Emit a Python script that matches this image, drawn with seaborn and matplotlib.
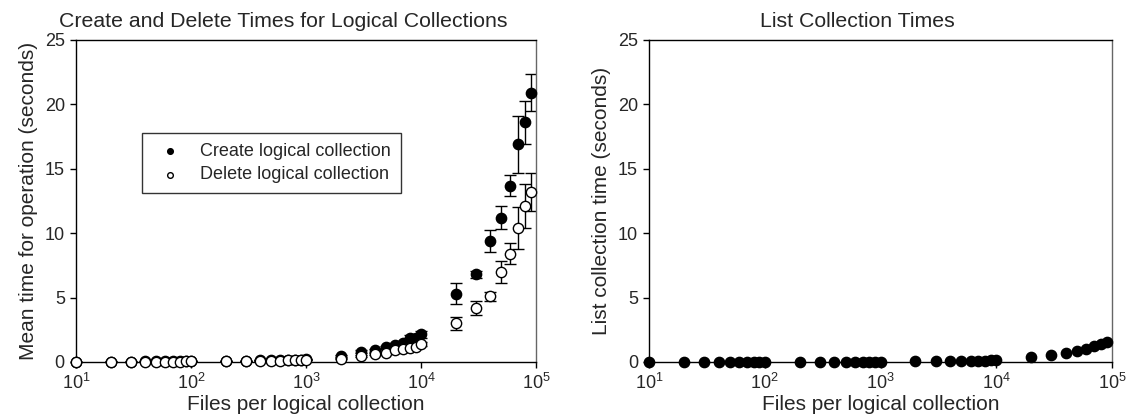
"""
Logical collection timing charts: create/delete and list times
"""

import numpy as np
import pandas as pd
import matplotlib
matplotlib.use('Agg')
import matplotlib.pyplot as plt
import seaborn as sns
from matplotlib.ticker import LogLocator, LogFormatterMathtext, NullLocator

# files per logical collection
files = [10, 20, 30, 40, 50, 60, 70, 80, 90, 100,
         200, 300, 400, 500, 600, 700, 800, 900, 1000,
         2000, 3000, 4000, 5000, 6000, 7000, 8000, 9000, 10000,
         20000, 30000, 40000, 50000, 60000, 70000, 80000, 90000]

create_time = [0.02, 0.03, 0.03, 0.04, 0.04, 0.04, 0.05, 0.05, 0.05, 0.06,
               0.07, 0.09, 0.15, 0.13, 0.15, 0.18, 0.18, 0.19, 0.22,
               0.44, 0.78, 0.90, 1.14, 1.34, 1.50, 1.86, 1.90, 2.14,
               5.3, 6.8, 9.4, 11.2, 13.7, 16.9, 18.6, 20.9]
create_err = [0.01, 0.01, 0.01, 0.01, 0.01, 0.01, 0.01, 0.01, 0.01, 0.01,
              0.02, 0.02, 0.03, 0.03, 0.03, 0.03, 0.03, 0.03, 0.04,
              0.08, 0.12, 0.10, 0.12, 0.15, 0.15, 0.25, 0.25, 0.25,
              0.8, 0.3, 0.85, 0.9, 0.8, 2.2, 1.7, 1.45]

delete_time = [0.01, 0.02, 0.02, 0.02, 0.03, 0.03, 0.03, 0.03, 0.04, 0.04,
               0.05, 0.06, 0.10, 0.09, 0.11, 0.16, 0.15, 0.16, 0.18,
               0.26, 0.44, 0.62, 0.70, 0.90, 1.00, 1.08, 1.20, 1.42,
               3.0, 4.2, 5.1, 7.0, 8.4, 10.4, 12.1, 13.2]
delete_err = [0.01, 0.01, 0.01, 0.01, 0.01, 0.01, 0.01, 0.01, 0.01, 0.01,
              0.02, 0.02, 0.02, 0.02, 0.02, 0.03, 0.03, 0.03, 0.03,
              0.05, 0.08, 0.08, 0.08, 0.10, 0.10, 0.12, 0.12, 0.15,
              0.5, 0.55, 0.35, 0.85, 0.8, 1.65, 1.7, 1.5]

list_time = [0.01, 0.01, 0.01, 0.01, 0.01, 0.01, 0.01, 0.01, 0.01, 0.01,
             0.01, 0.02, 0.02, 0.02, 0.02, 0.02, 0.02, 0.02, 0.03,
             0.04, 0.05, 0.06, 0.07, 0.08, 0.10, 0.11, 0.13, 0.16,
             0.39, 0.52, 0.70, 0.85, 1.03, 1.24, 1.40, 1.55]
list_err = [0.0] * 27 + [0.10] + [0.03] * 8

labels = ['Create logical collection', 'Delete logical collection']

sns.set_theme(style='white')
plt.rcParams['font.family'] = ['Liberation Sans', 'DejaVu Sans']
plt.rcParams['mathtext.default'] = 'regular'

df = pd.DataFrame({'files': files, 'create': create_time, 'delete': delete_time,
                   'list': list_time})

fig = plt.figure(figsize=(11.27, 4.17), dpi=100)
ax1 = fig.add_axes([0.0674, 0.1319, 0.4082, 0.7722])
ax2 = fig.add_axes([0.5759, 0.1319, 0.4108, 0.7722])


def style_axis(ax, ylabel, title):
    ax.set_xscale('log')
    ax.set_xlim(10, 1e5)
    ax.set_ylim(0, 25)
    ax.set_yticks([0, 5, 10, 15, 20, 25])
    ax.xaxis.set_major_locator(LogLocator(base=10, numticks=10))
    ax.xaxis.set_major_formatter(LogFormatterMathtext())
    ax.xaxis.set_minor_locator(NullLocator())
    ax.tick_params(axis='both', which='major', direction='out', length=4,
                   width=1, color='black', labelsize=13, bottom=True, left=True,
                   pad=4)
    ax.set_xlabel('Files per logical collection', fontsize=15, labelpad=1)
    ax.set_ylabel(ylabel, fontsize=15, labelpad=5)
    ax.set_title(title, fontsize=15.3, x=0.45, pad=9)
    for side in ['left', 'bottom', 'top']:
        ax.spines[side].set_color('black')
        ax.spines[side].set_linewidth(1)
    ax.spines['right'].set_color('#666666')
    ax.spines['right'].set_linewidth(1)


# left: create and delete times
ax1.errorbar(df['files'], df['create'], yerr=create_err, fmt='none',
             ecolor='black', elinewidth=1, capsize=4, capthick=1, zorder=2)
ax1.errorbar(df['files'], df['delete'], yerr=delete_err, fmt='none',
             ecolor='black', elinewidth=1, capsize=4, capthick=1, zorder=2)
sns.scatterplot(data=df, x='files', y='create', ax=ax1, color='black',
                edgecolor='black', s=55, linewidth=1, label=labels[0],
                zorder=3, clip_on=False)
sns.scatterplot(data=df, x='files', y='delete', ax=ax1, color='white',
                edgecolor='black', s=55, linewidth=1, label=labels[1],
                zorder=4, clip_on=False)
style_axis(ax1, 'Mean time for operation (seconds)',
           'Create and Delete Times for Logical Collections')
leg = ax1.legend(loc='upper left', bbox_to_anchor=(0.143, 0.711),
                 frameon=True, fancybox=False, edgecolor='black',
                 fontsize=13, markerscale=0.55, handletextpad=0.7,
                 borderpad=0.55, labelspacing=0.35, borderaxespad=0)
leg.get_frame().set_linewidth(1)

# right: list times
ax2.errorbar(df['files'], df['list'], yerr=list_err, fmt='none',
             ecolor='black', elinewidth=1, capsize=3, capthick=1, zorder=2)
sns.scatterplot(data=df, x='files', y='list', ax=ax2, color='black',
                edgecolor='black', s=55, linewidth=1, legend=False,
                zorder=3, clip_on=False)
style_axis(ax2, 'List collection time (seconds)', 'List Collection Times')

fig.savefig('out.png', dpi=100)
